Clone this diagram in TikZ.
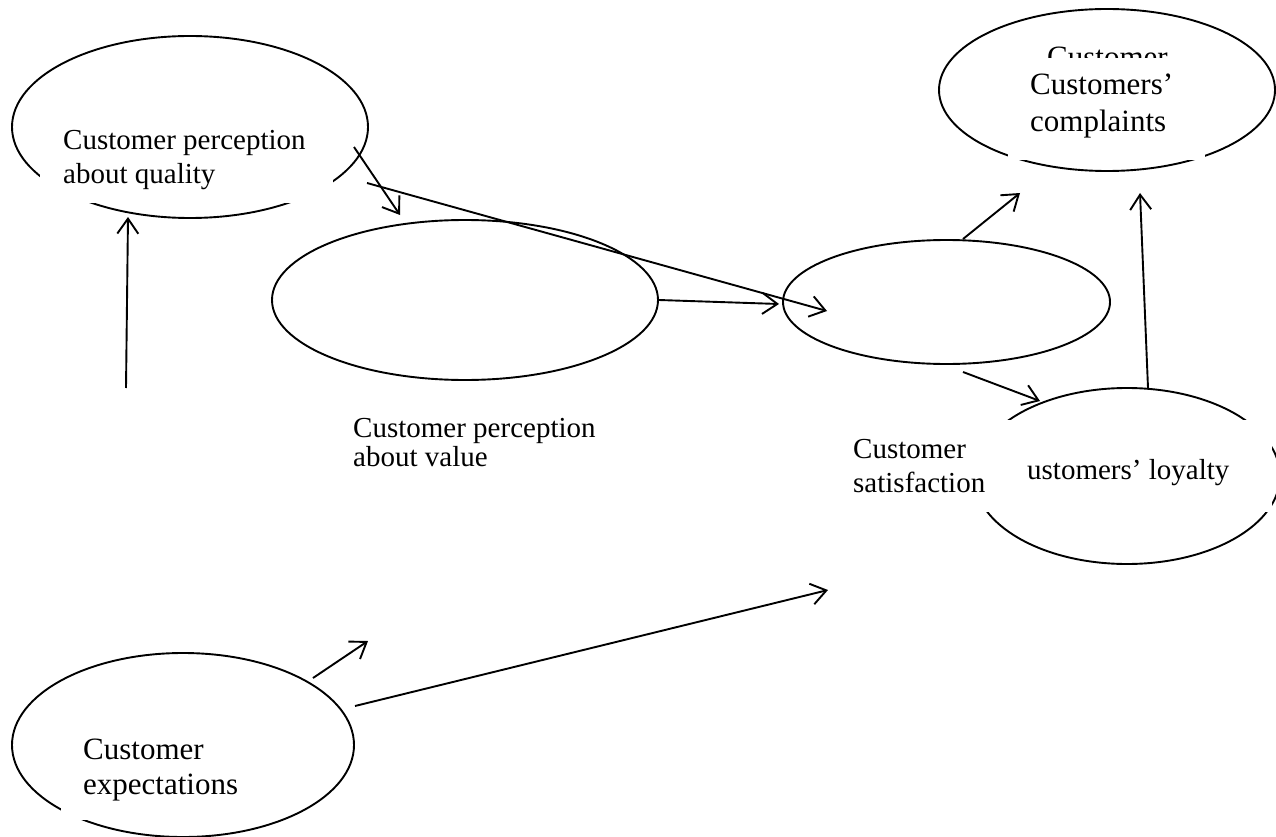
\documentclass[tikz,border=0pt]{standalone}
\usepackage{fontspec}
\setmainfont{Liberation Serif}
\usetikzlibrary{shapes.geometric,arrows.meta}
\begin{document}
\begin{tikzpicture}[x=1pt,y=-1pt,
  oval/.style={ellipse,draw,line width=1.9pt,inner sep=0pt},
  conn/.style={line width=1.9pt,-{Straight Barb[length=15pt,width=21pt,line width=1.9pt]}},
  small/.style={anchor=base west,inner sep=0pt,font=\fontsize{29pt}{33pt}\selectfont},
  large/.style={anchor=base west,inner sep=0pt,font=\fontsize{31pt}{37pt}\selectfont},
  mask/.style={fill=white}]
\useasboundingbox (0,0) rectangle (1276,837);
% ellipses
\node[oval,minimum width=356pt,minimum height=182pt] (Q) at (190,127) {};
\node[oval,minimum width=386pt,minimum height=160pt] (V) at (465,300) {};
\node[oval,minimum width=327pt,minimum height=124pt] (S) at (946.5,302) {};
\node[oval,minimum width=336pt,minimum height=162pt] (C) at (1107,90) {};
\node[oval,minimum width=306pt,minimum height=176pt] (L) at (1127,476) {};
\node[oval,minimum width=342pt,minimum height=184pt] (E) at (183,745) {};
% connector end points
\coordinate (e1s) at (313,678); \coordinate (e1t) at (368,641);
\coordinate (e2s) at (355,706); \coordinate (e2t) at (828,590);
\coordinate (q0s) at (126,388); \coordinate (q0t) at (128,217);
\coordinate (q1s) at (354,147); \coordinate (q1t) at (400,215);
\coordinate (q2s) at (367,183); \coordinate (q2t) at (827,311);
\coordinate (v1t) at (779,304);
\coordinate (s1s) at (963,239); \coordinate (s1t) at (1020,193);
\coordinate (s2s) at (963,372); \coordinate (s2t) at (1040,401);
\coordinate (l1s) at (1148,388); \coordinate (l1t) at (1140,193);
% connectors
\draw[conn] (e1s) -- (e1t);
\draw[conn] (e2s) -- (e2t);
\draw[conn] (q0s) -- (q0t);
\draw[conn] (q1s) -- (q1t);
\draw[conn] (q2s) -- (q2t);
\draw[conn] (V.east) -- (v1t);
\draw[conn] (s1s) -- (s1t);
\draw[conn] (s2s) -- (s2t);
\draw[conn] (l1s) -- (l1t);
% partly hidden text
\node[large] (hid) at (1047,68) {Customer};
% white text boxes
\fill[mask] (40,112) rectangle (333,203);
\fill[mask] (61,725) rectangle (260,820);
\fill[mask] (1008,58) rectangle (1205,160);
\fill[mask] (845,420) rectangle (1272,512);
% texts
\node[small] (tq1) at (63,150) {Customer perception};
\node[small] (tq2) at (63,183) {about quality};
\node[small] (tv1) at (353,437) {Customer perception};
\node[small] (tv2) at (353,466) {about value};
\node[small] (ts1) at (853,458) {Customer};
\node[small] (ts2) at (853,492) {satisfaction};
\node[small] (tl1) at (1027,479) {ustomers’ loyalty};
\node[large] (tc1) at (1030,95) {Customers’};
\node[large] (tc2) at (1030,132) {complaints};
\node[large] (te1) at (83,759) {Customer};
\node[large] (te2) at (83,794) {expectations};
\end{tikzpicture}
\end{document}
